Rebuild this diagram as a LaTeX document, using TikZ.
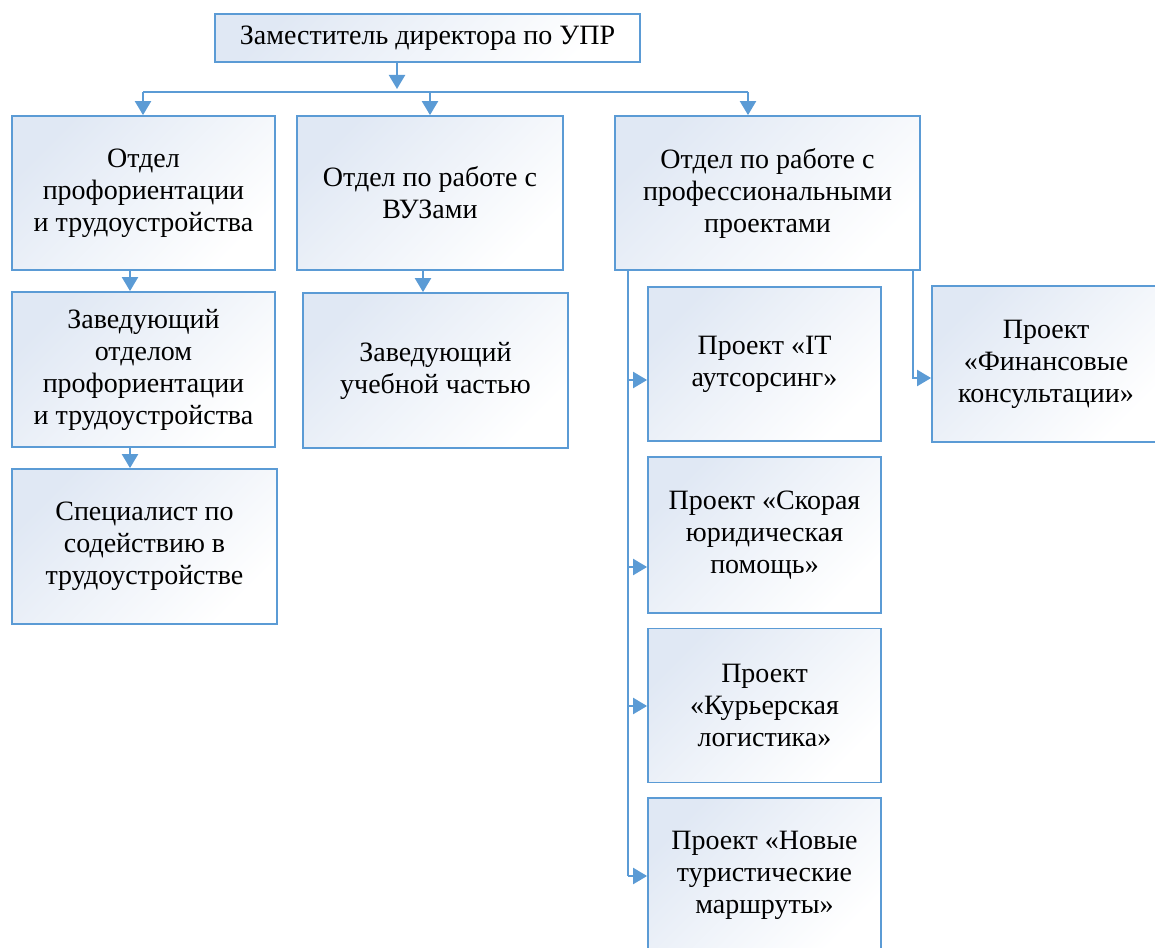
\documentclass[tikz,border=0pt]{standalone}
\usepackage{fontspec}
\setmainfont{Liberation Serif}
\usetikzlibrary{arrows.meta}

\definecolor{lineblue}{HTML}{5B9BD5}
\definecolor{boxfill}{HTML}{E0E8F4}

\tikzset{
  box/.style={draw=lineblue, line width=0.9pt, top color=boxfill, bottom color=white,
    shading angle=45, align=center, inner sep=2pt, minimum height=77pt,
    font=\fontsize{14}{16}\selectfont},
  link/.style={draw=lineblue, line width=1.1pt},
  arr/.style={link, -{Triangle[width=8pt,length=7pt]}}
}

\begin{document}
\begin{tikzpicture}[x=0.5pt, y=-0.5pt]
    \useasboundingbox (0,0) rectangle (1155,947);
    \clip (0,0) rectangle (1155,947);
    % top
    \node[box, minimum width=212.5pt, minimum height=24pt] (top) at (427.5,38) {Заместитель директора по УПР};
    % departments
    \node[box, minimum width=131.5pt] (otd) at (143.5,193) {Отдел\\профориентации\\и трудоустройства};
    \node[box, minimum width=133pt] (vuz) at (430,193) {Отдел по работе с\\ВУЗами};
    \node[box, minimum width=152.5pt] (proj) at (767.5,193) {Отдел по работе с\\профессиональными\\проектами};
    % staff
    \node[box, minimum width=131.5pt, minimum height=77.5pt] (zav) at (143.5,369.5) {Заведующий\\отделом\\профориентации\\и трудоустройства};
    \node[box, minimum width=132.5pt, minimum height=77.5pt] (ucheb) at (435.5,370.5) {Заведующий\\учебной частью};
    \node[box, minimum width=132.5pt, minimum height=77.5pt] (spec) at (144.5,546.5) {Специалист по\\содействию в\\трудоустройстве};
    % projects
    \node[box, minimum width=116.5pt] (it) at (764.5,364) {Проект «IT\\аутсорсинг»};
    \node[box, minimum width=116.5pt, minimum height=78pt] (jur) at (764.5,535) {Проект «Скорая\\юридическая\\помощь»};
    \node[box, minimum width=116.5pt] (kur) at (764.5,705.5) {Проект\\«Курьерская\\логистика»};
    \node[box, minimum width=116.5pt] (tur) at (764.5,875) {Проект «Новые\\туристические\\маршруты»};
    \node[box, minimum width=114pt, minimum height=78pt] (fin) at (1046,364) {Проект\\«Финансовые\\консультации»};

    % connectors
    \coordinate (busL) at (143,92);
    \coordinate (busR) at (748,92);
    \draw[arr] (397,0 |- top.south) -- (397,89);
    \draw[link] (busL) -- (busR);
    \draw[arr] (busL) -- (busL |- otd.north);
    \draw[arr] (430,92) -- (430,0 |- vuz.north);
    \draw[arr] (busR) -- (busR |- proj.north);
    \draw[arr] (130,0 |- otd.south) -- (130,0 |- zav.north);
    \draw[arr] (130,0 |- zav.south) -- (130,0 |- spec.north);
    \draw[arr] (423,0 |- vuz.south) -- (423,0 |- ucheb.north);
    \draw[link] (628,0 |- proj.south) -- (628,876);
    \foreach \n/\y in {it/380, jur/567, kur/706, tur/876}
        \draw[arr] (628,\y) -- (\n.west |- 0,\y);
    \draw[arr] (913,0 |- proj.south) |- (fin.west |- 0,378);
\end{tikzpicture}
\end{document}
